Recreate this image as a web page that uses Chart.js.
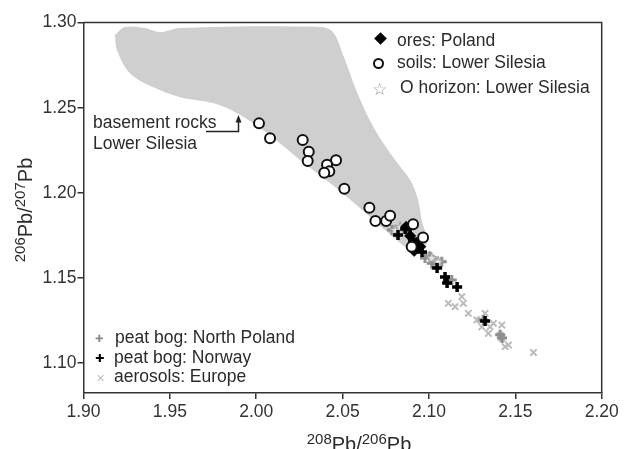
<!DOCTYPE html>
<html lang="en">
<head>
<meta charset="UTF-8">
<title>Pb isotope ratios</title>
<script src="https://cdn.jsdelivr.net/npm/chart.js"></script>
<style>
    body { margin: 0; background: #fff; }
    #wrap { position: relative; width: 624px; height: 449px; overflow: hidden;
            font-family: "Liberation Sans", Arial, sans-serif; color: #2b2b2b; }
    #chart { position: absolute; left: 0; top: 0; }
    .txt { position: absolute; font-size: 17.5px; line-height: 20px; white-space: nowrap; }
    .ttl { position: absolute; font-size: 20px; line-height: 24px; white-space: nowrap; }
    .ttl sup { font-size: 15px; vertical-align: 7px; line-height: 0; }
    .mk { position: absolute; }
</style>
</head>
<body>
<div id="wrap">
    <canvas id="chart" width="624" height="449"></canvas>

    <!-- legend, top right -->
    <div class="mk" style="left:376px;top:34px;width:9px;height:9px;background:#000;transform:rotate(45deg);"></div>
    <div class="txt" style="left:397px;top:30px;">ores: Poland</div>
    <div class="mk" style="left:373px;top:58px;width:7px;height:7px;border:2px solid #111;border-radius:50%;"></div>
    <div class="txt" style="left:397px;top:52px;">soils: Lower Silesia</div>
    <div class="txt" style="left:372px;top:79px;color:#9a9a9a;font-family:'DejaVu Sans';font-size:17px;">&#9734;</div>
    <div class="txt" style="left:400px;top:77px;">O horizon: Lower Silesia</div>

    <!-- legend, bottom left -->
    <div class="txt" style="left:95px;top:329px;color:#8c8c8c;font-family:'DejaVu Sans';font-size:10px;">&#10010;</div>
    <div class="txt" style="left:115px;top:327px;">peat bog: North Poland</div>
    <div class="txt" style="left:95px;top:349px;color:#000;font-family:'DejaVu Sans';font-size:11px;">&#10010;</div>
    <div class="txt" style="left:114px;top:347px;">peat bog: Norway</div>
    <div class="txt" style="left:96px;top:369px;color:#c0c0c0;font-family:'DejaVu Sans';font-size:11px;">&#10005;</div>
    <div class="txt" style="left:114px;top:366px;">aerosols: Europe</div>

    <!-- annotation -->
    <div class="txt" style="left:93px;top:112px;">basement rocks</div>
    <div class="txt" style="left:93px;top:133px;">Lower Silesia</div>
    <svg style="position:absolute;left:0;top:0;" width="624" height="449">
        <polyline points="206,131.5 238.5,131.5 238.5,121" fill="none" stroke="#222" stroke-width="1.5"/>
        <polygon points="238.5,115 235.5,122.5 241.5,122.5" fill="#222"/>
    </svg>

    <!-- axis titles -->
    <div class="ttl" style="left:359px;top:444px;transform:translate(-50%,-50%);"><sup>208</sup>Pb/<sup>206</sup>Pb</div>
    <div class="ttl" style="left:25px;top:210px;transform:translate(-50%,-50%) rotate(-90deg);"><sup>206</sup>Pb/<sup>207</sup>Pb</div>
</div>

<script>
    // axes
    const xTicks = [1.90, 1.95, 2.00, 2.05, 2.10, 2.15, 2.20];
    const yTicks = [1.10, 1.15, 1.20, 1.25, 1.30];

    // grey field: basement rocks, Lower Silesia (outline, clockwise)
    const basementX = [1.9182, 1.9240, 1.9356, 1.9443, 1.9559, 2.0369, 2.0445, 2.0503, 2.0590, 2.0688,
                       2.0804, 2.0891, 2.0937, 2.0960, 2.0989, 2.0977, 2.0920, 2.0862, 2.0758, 2.0601,
                       2.0427, 2.0253, 2.0063, 1.9889, 1.9750, 1.9559, 1.9402, 1.9269, 1.9194, 1.9182];
    const basementY = [1.2927, 1.2974, 1.2968, 1.2944, 1.2968, 1.2974, 1.2944, 1.2809, 1.2574, 1.2369,
                       1.2193, 1.2075, 1.1958, 1.1829, 1.1735, 1.1677, 1.1665, 1.1683, 1.1771, 1.1910,
                       1.2057, 1.2193, 1.2351, 1.2468, 1.2527, 1.2562, 1.2621, 1.2703, 1.2838, 1.2927];

    // soils: Lower Silesia
    const soilsX = [2.0016, 2.0080, 2.0269, 2.0304, 2.0298, 2.0462, 2.0410, 2.0423, 2.0394, 2.0510,
                    2.0655, 2.0690, 2.0752, 2.0775, 2.0908, 2.0966, 2.0900];
    const soilsY = [1.2408, 1.2320, 1.2310, 1.2241, 1.2187, 1.2191, 1.2165, 1.2126, 1.2118, 1.2024,
                    1.1912, 1.1834, 1.1834, 1.1865, 1.1815, 1.1738, 1.1683];

    // ores: Poland
    const oresX = [2.0868, 2.0891, 2.0926, 2.0949, 2.0914];
    const oresY = [1.1800, 1.1747, 1.1706, 1.1683, 1.1659];

    // O horizon: Lower Silesia
    const horizonX = [2.0804, 2.0833, 2.1016, 2.1053];
    const horizonY = [1.1778, 1.1796, 1.1615, 1.1593];

    // peat bog: Norway
    const norwayX = [2.0821, 2.0862, 2.0891, 2.0908, 2.0937, 2.0960, 2.1047, 2.1093, 2.1105, 2.1163, 2.1325];
    const norwayY = [1.1752, 1.1787, 1.1793, 1.1712, 1.1676, 1.1652, 1.1558, 1.1505, 1.1470, 1.1446, 1.1247];

    // peat bog: North Poland
    const polandX = [2.0786, 2.0977, 2.1006, 2.1016, 2.1045, 2.1074, 2.1111, 2.1132, 2.1315, 2.1412, 2.1423];
    const polandY = [1.1781, 1.1617, 1.1624, 1.1586, 1.1586, 1.1595, 1.1488, 1.1488, 1.1253, 1.1166, 1.1147];

    // aerosols: Europe
    const aerosolX = [2.1112, 2.1151, 2.1190, 2.1199, 2.1228, 2.1277, 2.1325, 2.1296, 2.1306, 2.1354,
                      2.1344, 2.1373, 2.1422, 2.1412, 2.1422, 2.1441, 2.1460, 2.1605, 2.0990, 2.1030];
    const aerosolY = [1.1351, 1.1331, 1.1390, 1.1351, 1.1292, 1.1253, 1.1292, 1.1253, 1.1213, 1.1213,
                      1.1174, 1.1233, 1.1223, 1.1164, 1.1145, 1.1096, 1.1106, 1.1062, 1.1640, 1.1570];

    const pts = (xs, ys) => xs.map((x, i) => ({ x: x, y: ys[i] }));

    function starImage(size, stroke, fill) {
        const c = document.createElement('canvas');
        c.width = c.height = size;
        const g = c.getContext('2d');
        const r = size / 2 - 1, r2 = r * 0.45;
        g.beginPath();
        for (let i = 0; i < 10; i++) {
            const a = -Math.PI / 2 + i * Math.PI / 5;
            const rr = i % 2 ? r2 : r;
            g.lineTo(size / 2 + rr * Math.cos(a), size / 2 + rr * Math.sin(a));
        }
        g.closePath();
        g.fillStyle = fill;
        g.fill();
        g.strokeStyle = stroke;
        g.lineWidth = 1.2;
        g.stroke();
        return c;
    }

    // top and right sides of the frame
    const frame = {
        id: 'frame',
        afterDraw(chart) {
            const { ctx, chartArea: a } = chart;
            ctx.save();
            ctx.strokeStyle = '#333';
            ctx.lineWidth = 1.5;
            ctx.beginPath();
            ctx.moveTo(a.left, a.top);
            ctx.lineTo(a.right, a.top);
            ctx.lineTo(a.right, a.bottom);
            ctx.stroke();
            ctx.restore();
        }
    };

    const font = { family: '"Liberation Sans", Arial, sans-serif', size: 17.5 };

    new Chart(document.getElementById('chart').getContext('2d'), {
        type: 'scatter',
        data: {
            datasets: [
                {
                    type: 'line',
                    label: 'basement rocks Lower Silesia',
                    data: pts(basementX, basementY),
                    fill: 'shape',
                    backgroundColor: '#cfcfcf',
                    borderColor: '#cfcfcf',
                    borderWidth: 0,
                    tension: 0.35,
                    pointRadius: 0,
                    order: 6
                },
                {
                    label: 'aerosols: Europe',
                    data: pts(aerosolX, aerosolY),
                    pointStyle: 'crossRot',
                    pointRadius: 4.5,
                    borderWidth: 2,
                    borderColor: '#bcbcbc',
                    order: 5
                },
                {
                    label: 'peat bog: North Poland',
                    data: pts(polandX, polandY),
                    pointStyle: 'cross',
                    pointRadius: 5,
                    borderWidth: 3,
                    borderColor: '#8e8e8e',
                    order: 4
                },
                {
                    label: 'O horizon: Lower Silesia',
                    data: pts(horizonX, horizonY),
                    pointStyle: starImage(13, '#a0a0a0', '#e6e6e6'),
                    order: 3
                },
                {
                    label: 'peat bog: Norway',
                    data: pts(norwayX, norwayY),
                    pointStyle: 'cross',
                    pointRadius: 5,
                    borderWidth: 3.5,
                    borderColor: '#000',
                    order: 2
                },
                {
                    label: 'ores: Poland',
                    data: pts(oresX, oresY),
                    pointStyle: 'rectRot',
                    pointRadius: 5.5,
                    backgroundColor: '#000',
                    borderColor: '#000',
                    borderWidth: 1,
                    order: 1
                },
                {
                    label: 'soils: Lower Silesia',
                    data: pts(soilsX, soilsY),
                    pointStyle: 'circle',
                    pointRadius: 5,
                    backgroundColor: '#fff',
                    borderColor: '#111',
                    borderWidth: 2,
                    order: 0
                }
            ]
        },
        options: {
            responsive: false,
            animation: false,
            devicePixelRatio: 1,
            layout: { padding: { top: 22.6, right: 22.3, left: 0, bottom: 0 } },
            plugins: { legend: { display: false }, tooltip: { enabled: false } },
            scales: {
                x: {
                    type: 'linear',
                    min: 1.90,
                    max: 2.20,
                    afterBuildTicks: axis => { axis.ticks = xTicks.map(v => ({ value: v })); },
                    afterFit: axis => { axis.height = 56; },
                    ticks: { callback: v => v.toFixed(2), font: font, color: '#333', padding: 3, maxRotation: 0 },
                    grid: { drawOnChartArea: false, tickLength: 6, color: '#333', lineWidth: 1.5 },
                    border: { display: true, color: '#333', width: 1.5 }
                },
                y: {
                    type: 'linear',
                    min: 1.0824,
                    max: 1.30,
                    afterBuildTicks: axis => { axis.ticks = yTicks.map(v => ({ value: v })); },
                    afterFit: axis => { axis.width = 83.5; },
                    ticks: { callback: v => v.toFixed(2), font: font, color: '#333', padding: 1 },
                    grid: { drawOnChartArea: false, tickLength: 6, color: '#333', lineWidth: 1.5 },
                    border: { display: true, color: '#333', width: 1.5 }
                }
            }
        },
        plugins: [frame]
    });
</script>
</body>
</html>
